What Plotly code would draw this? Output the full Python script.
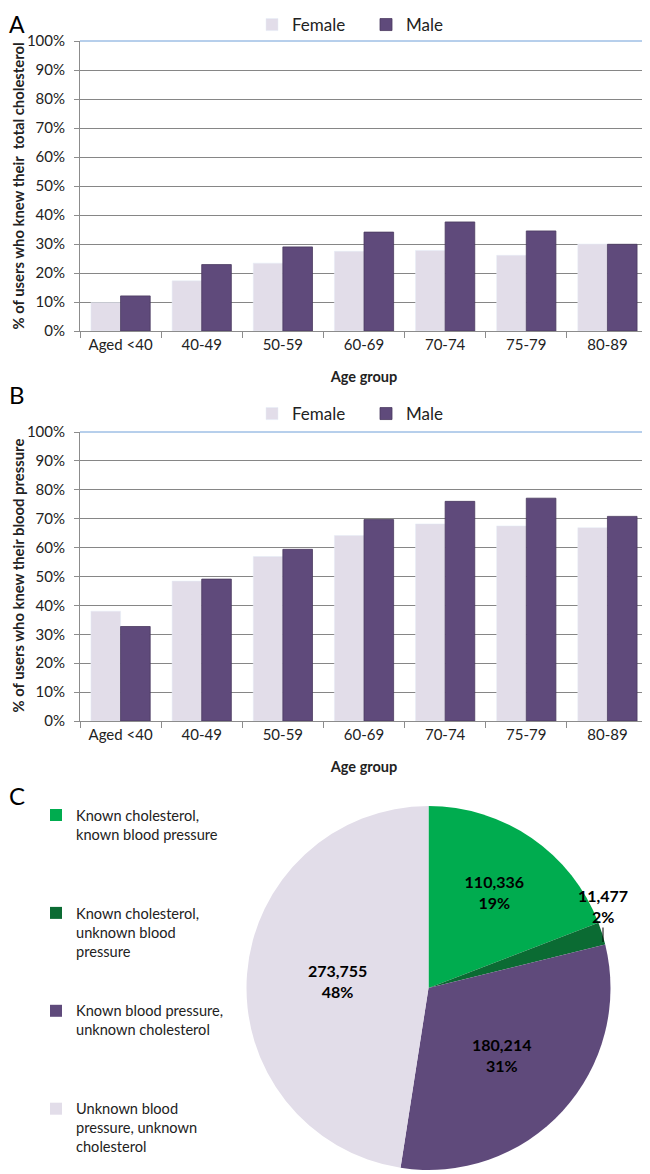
import plotly.graph_objects as go

# ---------------- data ----------------
age_groups = ["Aged <40", "40-49", "50-59", "60-69", "70-74", "75-79", "80-89"]
chol_female = [9.8, 17.3, 23.4, 27.5, 27.8, 26.1, 30.0]
chol_male = [12.1, 22.9, 29.0, 34.1, 37.6, 34.5, 29.9]
bp_female = [38.0, 48.4, 56.9, 64.2, 68.2, 67.5, 66.9]
bp_male = [32.7, 49.1, 59.4, 69.7, 76.0, 77.1, 70.8]
pie_labels = [
    "Known cholesterol,<br>known blood pressure",
    "Known cholesterol,<br>unknown blood<br>pressure",
    "Known blood pressure,<br>unknown cholesterol",
    "Unknown blood<br>pressure, unknown<br>cholesterol",
]
pie_values = [110336, 11477, 180214, 273755]
y_ticks = [0, 10, 20, 30, 40, 50, 60, 70, 80, 90, 100]
y_ticktext = [f"{v}%" for v in y_ticks]
ytitle_a = "% of users who knew their  total cholesterol"
ytitle_b = "% of users who knew their blood pressure"

# ---------------- styles ----------------
FEMALE = "#e2dde9"
MALE = "#5f4a7b"
PIE_COLORS = ["#00ac4f", "#0b6b33", "#5f4a7b", "#e2dde9"]
FONT = "Lato"
GRID = "#868686"
OFF = 8            # the page body adds an 8px margin around the figure
W = 650 - OFF
H = 1174 - OFF


def px(pix):
    return (pix - OFF) / W


def py(pix):
    return 1 - (pix - OFF) / H


# pad legend labels so entries sit ~98px apart like the reference
def pad(label, lines=5):
    n = label.count("<br>") + 1
    return label + "<br> " * (lines - n)


legend_labels = [pad(l) for l in pie_labels[:-1]] + [pie_labels[-1]]

fig = go.Figure()

fig.add_trace(go.Bar(x=age_groups, y=chol_female, name="Female", marker_color=FEMALE,
                     xaxis="x", yaxis="y", legend="legend"))
fig.add_trace(go.Bar(x=age_groups, y=chol_male, name="Male", marker_color=MALE,
                     marker_line=dict(color="#4a3a60", width=0.8),
                     xaxis="x", yaxis="y", legend="legend"))
fig.add_trace(go.Bar(x=age_groups, y=bp_female, name="Female", marker_color=FEMALE,
                     xaxis="x2", yaxis="y2", legend="legend2"))
fig.add_trace(go.Bar(x=age_groups, y=bp_male, name="Male", marker_color=MALE,
                     marker_line=dict(color="#4a3a60", width=0.8),
                     xaxis="x2", yaxis="y2", legend="legend2"))

fig.add_trace(go.Pie(
    labels=legend_labels, values=pie_values, sort=False, direction="clockwise", rotation=0,
    marker=dict(colors=PIE_COLORS, line=dict(width=0)),
    texttemplate="<b>%{value:,.0f}<br>%{percent:.0%}</b>",
    textposition=["inside", "none", "inside", "inside"],
    insidetextorientation="horizontal",
    textfont=dict(family=FONT, size=16, color="black"),
    domain=dict(x=[px(245), px(612)], y=[py(1170), py(806)]),
    legend="legend3", showlegend=True, hoverinfo="label+value+percent",
))

xdom = [px(80), px(648)]
axis_common_x = dict(
    domain=xdom, showline=True, linecolor="#8c8c8c", linewidth=1,
    ticks="outside", tickson="boundaries", ticklen=6, tickcolor="#8c8c8c",
    tickfont=dict(family=FONT, size=15, color="#222"),
    showgrid=False,
    title=dict(text="<b>Age group</b>", font=dict(family=FONT, size=14.5, color="#222"), standoff=19),
)
axis_common_y = dict(
    range=[0, 100], tickmode="array", tickvals=y_ticks, ticktext=y_ticktext,
    showline=True, linecolor="#8c8c8c", linewidth=1,
    ticks="outside", ticklen=5, tickcolor="#8c8c8c", ticklabelstandoff=6,
    tickfont=dict(family=FONT, size=15, color="#222"),
    showgrid=True, gridcolor=GRID, gridwidth=1.3, zeroline=False,
)

ytitle_font = dict(family=FONT, size=14.8, color="#222")

fig.update_layout(
    width=W, height=H,
    margin=dict(l=0, r=0, t=0, b=0, autoexpand=False),
    paper_bgcolor="white", plot_bgcolor="white",
    font=dict(family=FONT, size=14, color="#222"),
    barmode="group", bargap=0.27, bargroupgap=0,
    xaxis=dict(**axis_common_x, anchor="y"),
    yaxis=dict(**axis_common_y, domain=[py(331), py(41)], anchor="x"),
    xaxis2=dict(**axis_common_x, anchor="y2"),
    yaxis2=dict(**axis_common_y, domain=[py(721), py(432)], anchor="x2"),
    legend=dict(orientation="h", x=px(252), xanchor="left", y=py(25), yanchor="middle",
                font=dict(family=FONT, size=17, color="#222"), entrywidth=69,
                bgcolor="rgba(0,0,0,0)"),
    legend2=dict(orientation="h", x=px(252), xanchor="left", y=py(414), yanchor="middle",
                 font=dict(family=FONT, size=17, color="#222"), entrywidth=69,
                 bgcolor="rgba(0,0,0,0)"),
    legend3=dict(orientation="v", x=px(36), xanchor="left", y=py(799), yanchor="top",
                 valign="top", font=dict(family=FONT, size=14.6, color="#222"),
                 tracegroupgap=0, bgcolor="rgba(0,0,0,0)"),
    annotations=[
        dict(text="A", x=px(7), y=1, xref="paper", yref="paper", xanchor="left",
             yanchor="top", showarrow=False, font=dict(family=FONT, size=23, color="black")),
        dict(text="B", x=px(7), y=py(395), xref="paper", yref="paper", xanchor="left",
             yanchor="middle", showarrow=False, font=dict(family=FONT, size=24, color="black")),
        dict(text="C", x=px(7), y=py(795), xref="paper", yref="paper", xanchor="left",
             yanchor="middle", showarrow=False, font=dict(family=FONT, size=24, color="black")),
        # rotated y-axis titles
        dict(text=f"<b>{ytitle_a}</b>", textangle=-90, x=px(17.5), y=py(186),
             xref="paper", yref="paper", xanchor="center", yanchor="middle",
             showarrow=False, borderpad=0, font=ytitle_font),
        dict(text=f"<b>{ytitle_b}</b>", textangle=-90, x=px(17.5), y=py(576),
             xref="paper", yref="paper", xanchor="center", yanchor="middle",
             showarrow=False, borderpad=0, font=ytitle_font),
        # label for the small slice, with leader line
        dict(text=f"<b>{pie_values[1]:,}<br>{round(100 * pie_values[1] / sum(pie_values))}%</b>",
             x=px(603), y=py(942), xref="paper", yref="paper",
             showarrow=True, arrowhead=0, arrowwidth=1, arrowcolor="black",
             ax=0, ay=-36, font=dict(family=FONT, size=16, color="black")),
    ],
)

# light-blue top/right frame of the plot areas
for xr, yr in (("x domain", "y domain"), ("x2 domain", "y2 domain")):
    fig.add_shape(type="line", xref=xr, yref=yr, x0=0, x1=1, y0=1, y1=1,
                  line=dict(color="#6f9fd8", width=1))
    fig.add_shape(type="line", xref=xr, yref=yr, x0=1, x1=1, y0=0, y1=1,
                  line=dict(color="#6f9fd8", width=1))

fig.write_html("out.html")
